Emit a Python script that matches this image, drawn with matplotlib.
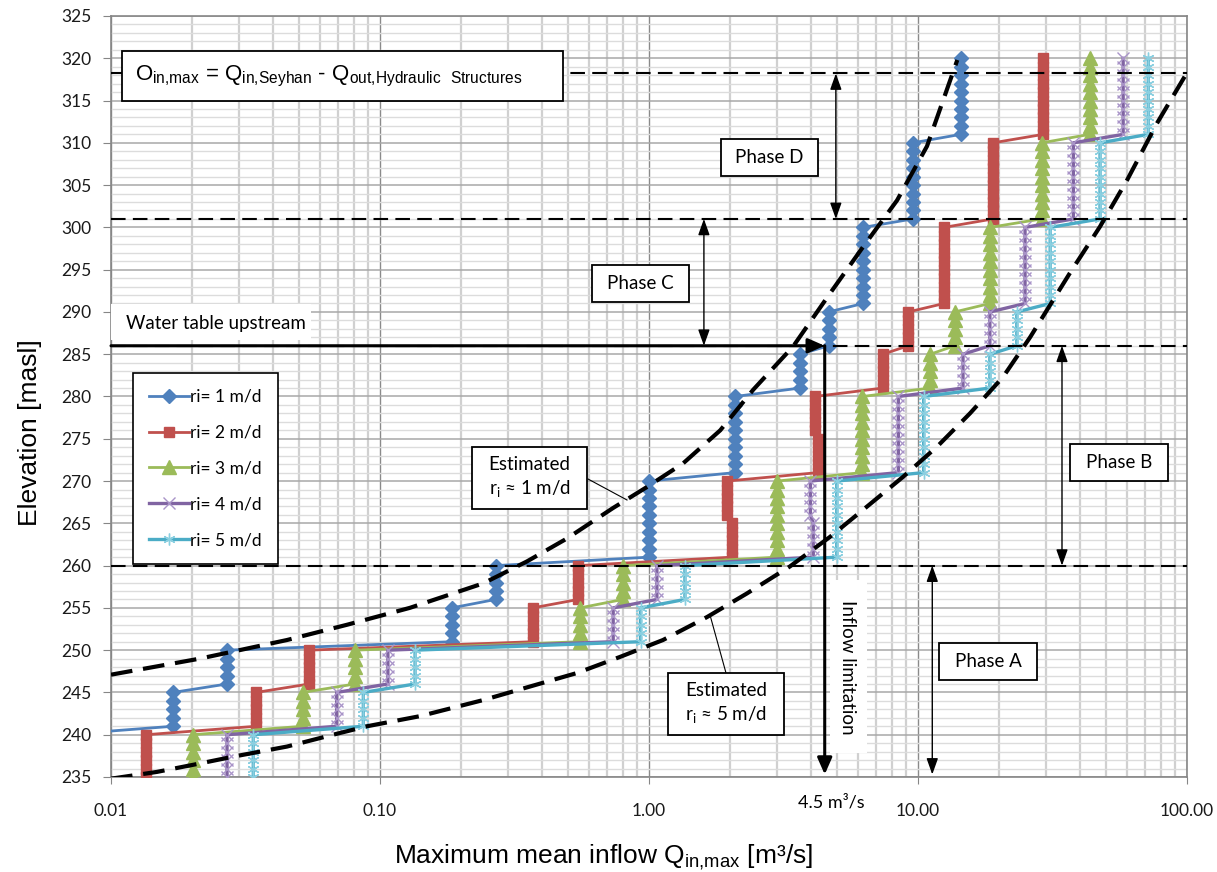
import numpy as np
import matplotlib
matplotlib.use('Agg')
import matplotlib.pyplot as plt
from matplotlib.patches import Rectangle
from matplotlib.lines import Line2D

# ---------------- data ----------------
band_start = [235, 241, 246, 251, 256, 261, 266, 271, 276, 281, 286, 291, 301, 311]
band_end   = [240, 245, 250, 255, 260, 265, 270, 275, 280, 285, 290, 300, 310, 320]

q_ri1 = [0.0066, 0.017, 0.027, 0.185, 0.269, 1.00, 1.00, 2.09, 2.09, 3.64, 4.65, 6.25, 9.57, 14.4]
q_ri2 = [0.0135, 0.0346, 0.0545, 0.37, 0.546, 2.03, 1.95, 4.25, 4.14, 7.4, 9.2, 12.5, 19.0, 29.2]
q_ri3 = [0.0201, 0.0516, 0.0807, 0.554, 0.80, 2.99, 2.99, 6.21, 6.21, 11.1, 13.7, 18.5, 28.8, 43.5]
q_ri4 = [0.027, 0.069, 0.107, 0.736, 1.07, 4.08, 3.98, 8.45, 8.45, 14.7, 18.5, 25.0, 37.8, 57.9]
q_ri5 = [0.0338, 0.0867, 0.135, 0.93, 1.36, 4.99, 4.99, 10.5, 10.5, 18.5, 23.3, 31.0, 47.5, 71.8]

series_labels = ['ri= 1 m/d', 'ri= 2 m/d', 'ri= 3 m/d', 'ri= 4 m/d', 'ri= 5 m/d']

est1_q = [0.01, 0.0214, 0.0451, 0.0753, 0.129, 0.242, 0.352, 0.495, 0.734, 0.983,
          1.34, 1.84, 2.44, 3.43, 4.71, 6.25, 8.36, 10.8, 14.0]
est1_e = [247.1, 249.0, 251.2, 253.0, 255.0, 257.9, 260.5, 263.2, 266.8, 269.3,
          272.1, 276.0, 280.8, 285.9, 292.2, 297.7, 303.2, 309.6, 319.8]

est5_q = [0.01, 0.0148, 0.0214, 0.0284, 0.0451, 0.0669, 0.0895, 0.141, 0.242, 0.361,
          0.540, 0.780, 1.127, 1.64, 2.31, 3.34, 4.71, 6.25, 8.80, 11.8, 15.6,
          20.7, 26.1, 36.7, 47.5, 59.9, 77.3, 100.0]
est5_e = [234.8, 235.6, 236.6, 237.4, 238.6, 240.0, 241.0, 242.2, 244.1, 245.7,
          247.3, 249.2, 251.2, 253.9, 256.7, 259.9, 263.4, 266.6, 270.5, 274.1, 278.0,
          282.3, 287.0, 294.6, 300.1, 305.6, 312.3, 318.3]

phase_levels = [260, 286, 301, 318.2]
inflow_limit = 4.5
water_table = 286

# ---------------- style ----------------
W, H = 1217, 872
fig = plt.figure(figsize=(W / 100, H / 100), dpi=100)
ax = fig.add_axes([111 / W, 1 - 777 / H, (1187 - 111) / W, (777 - 16) / H])

calib = ['Lato', 'DejaVu Sans']
arial = ['Liberation Sans', 'DejaVu Sans']

colors = ['#4F81BD', '#C0504D', '#9BBB59', '#8064A2', '#4BACC6']
marker_edge = ['#4F81BD', '#C0504D', '#9BBB59', '#A994C8', '#8ACFE0']
markers = ['D', 's', '^', 'x', (6, 2, 0)]
msizes = [7, 7.5, 9.5, 8, 8.5]
mews = [1, 1, 1, 1.0, 1.0]
lws = [2.0, 2.0, 2.0, 2.4, 2.4]


def expand(qs):
    ee, qq = [], []
    for s, e, q in zip(band_start, band_end, qs):
        for el in range(s, e + 1):
            ee.append(el)
            qq.append(q)
    return qq, ee


for qs, c, mc, m, ms, mw, lw, lab in zip([q_ri1, q_ri2, q_ri3, q_ri4, q_ri5], colors,
                                         marker_edge, markers, msizes, mews, lws,
                                         series_labels):
    qq, ee = expand(qs)
    ax.plot(qq, ee, color=c, lw=lw, marker=m, ms=ms, mew=mw, mec=mc, mfc=mc,
            label=lab, zorder=3)

# estimated curves
for q, e in [(est1_q, est1_e), (est5_q, est5_e)]:
    ax.plot(q, e, color='black', lw=3.0, dashes=(5.2, 2.6), zorder=5,
            dash_capstyle='butt')

# phase dashed horizontal lines
for lv in phase_levels:
    ax.plot([0.01, 100], [lv, lv], color='black', lw=1.5, dashes=(7, 3.5), zorder=4)

# water table and inflow limitation arrows
ax.annotate('', xy=(inflow_limit, water_table), xytext=(0.01, water_table),
            arrowprops=dict(arrowstyle='-|>,head_length=0.5,head_width=0.22', color='black',
                            lw=2.2, shrinkA=0, shrinkB=0, mutation_scale=20), zorder=6)
ax.annotate('', xy=(inflow_limit, 235.3), xytext=(inflow_limit, water_table),
            arrowprops=dict(arrowstyle='-|>,head_length=0.5,head_width=0.22', color='black',
                            lw=2.2, shrinkA=0, shrinkB=0, mutation_scale=20), zorder=6)

# phase double arrows
phase_arrow_x = [11.3, 34.3, 1.60, 4.95]
phase_arrow_ranges = [(235.3, 260), (260, 286), (286, 301), (301, 318.2)]
for xq, (e0, e1) in zip(phase_arrow_x, phase_arrow_ranges):
    ax.annotate('', xy=(xq, e1), xytext=(xq, e0),
                arrowprops=dict(arrowstyle='<|-|>,head_length=0.7,head_width=0.25',
                                color='black', lw=1.0, shrinkA=0, shrinkB=0,
                                mutation_scale=14), zorder=6)

# axes
ax.set_xscale('log')
ax.set_xlim(0.01, 100)
ax.set_ylim(235, 325)
ax.set_xticks([0.01, 0.1, 1, 10, 100])
ax.set_xticklabels(['0.01', '0.10', '1.00', '10.00', '100.00'])
ax.set_xticks([k * d for d in [0.01, 0.1, 1, 10] for k in range(2, 10)], minor=True)
ax.set_yticks(range(235, 326, 5))
ax.set_yticks(range(235, 326, 1), minor=True)
ax.tick_params(axis='both', which='minor', length=0)
ax.tick_params(axis='y', which='major', length=6, color='#868686', labelsize=12.5,
               pad=8, labelcolor='#1a1a1a')
ax.tick_params(axis='x', which='major', length=5, color='#868686', labelsize=12.5,
               pad=14, labelcolor='#1a1a1a')
for lab in ax.get_xticklabels() + ax.get_yticklabels():
    lab.set_family(calib)
ax.grid(which='minor', axis='y', color='#dcdcdc', lw=1.0, zorder=0)
ax.grid(which='major', axis='y', color='#a8a8a8', lw=1.1, zorder=0)
ax.grid(which='minor', axis='x', color='#d0d0d0', lw=1.6, zorder=0)
ax.grid(which='major', axis='x', color='#8a8a8a', lw=1.0, zorder=0)
ax.set_axisbelow(True)
for sp in ax.spines.values():
    sp.set_color('#868686')
    sp.set_linewidth(1.2)

fig.text(30 / W, 1 - 433 / H, 'Elevation [masl]', rotation=90, ha='center', va='center',
         family=arial, fontsize=19)
fig.text(604 / W, 1 - 857 / H,
         r'Maximum mean inflow Q$_\mathregular{in{,}max}$ [m³/s]',
         ha='center', va='center', family=arial, fontsize=19)
fig.text(831 / W, 1 - 803 / H, '4.5 m³/s', ha='center', va='center', family=calib,
         fontsize=13)

# ---------------- boxes & labels ----------------

def fig_box(x0, y0, x1, y1, edge='black', lw=1.3):
    r = Rectangle((x0 / W, 1 - y1 / H), (x1 - x0) / W, (y1 - y0) / H,
                  transform=fig.transFigure, fc='white', ec=edge, lw=lw, zorder=8)
    fig.add_artist(r)


def fig_txt(x, y, s, **kw):
    t = fig.text(x / W, 1 - y / H, s, zorder=9, **kw)
    return t


# equation box
fig_box(122, 51, 563, 101)
fig_txt(135, 80, r'O$_\mathregular{in{,}max}$ = Q$_\mathregular{in{,}Seyhan}$ - '
        r'Q$_\mathregular{out{,}Hydraulic\ \ Structures}$',
        ha='left', va='baseline', family=arial, fontsize=16)

# water table label
fig_box(111, 304, 311, 340, edge='none', lw=0)
fig_txt(216, 323, 'Water table upstream', ha='center', va='center', family=calib,
        fontsize=13.5)

# inflow limitation label
fig_box(830, 580, 867, 753, edge='none', lw=0)
fig_txt(848, 667, 'Inflow limitation', rotation=270, ha='center', va='center',
        family=calib, fontsize=13.5)

# phase boxes
for (x0, y0, x1, y1), s in [((721, 139, 818, 176), 'Phase D'),
                            ((592, 265, 689, 302), 'Phase C'),
                            ((1070, 444, 1168, 481), 'Phase B'),
                            ((939, 643, 1037, 680), 'Phase A')]:
    fig_box(x0, y0, x1, y1)
    fig_txt((x0 + x1) / 2, (y0 + y1) / 2, s, ha='center', va='center', family=calib,
            fontsize=13.5)

# estimated boxes with leader lines
fig.add_artist(Line2D([588 / W, 627 / W], [1 - 479 / H, 1 - 500 / H], color='black',
                      lw=0.8, transform=fig.transFigure, zorder=7))
fig_box(472, 447, 587, 509)
fig_txt(529.5, 478, 'Estimated\nr$_\\mathregular{i}$ ≈ 1 m/d', ha='center', va='center',
        family=calib, fontsize=13.5, linespacing=1.3)

fig.add_artist(Line2D([726 / W, 710 / W], [1 - 673 / H, 1 - 615 / H], color='black',
                      lw=0.8, transform=fig.transFigure, zorder=7))
fig_box(668, 673, 784, 735)
fig_txt(726, 704, 'Estimated\nr$_\\mathregular{i}$ ≈ 5 m/d', ha='center', va='center',
        family=calib, fontsize=13.5, linespacing=1.3)

# legend
leg = ax.legend(loc='upper left', bbox_to_anchor=(133 / W, 1 - 373 / H),
                bbox_transform=fig.transFigure, borderaxespad=0, frameon=True,
                fancybox=False, edgecolor='black', framealpha=1, numpoints=1,
                handlelength=2.3, handletextpad=0.1, labelspacing=1.15,
                borderpad=0.9, prop={'family': calib, 'size': 12.5})
leg.get_frame().set_linewidth(1.2)
leg.set_zorder(10)

fig.savefig('out.png', dpi=100)
